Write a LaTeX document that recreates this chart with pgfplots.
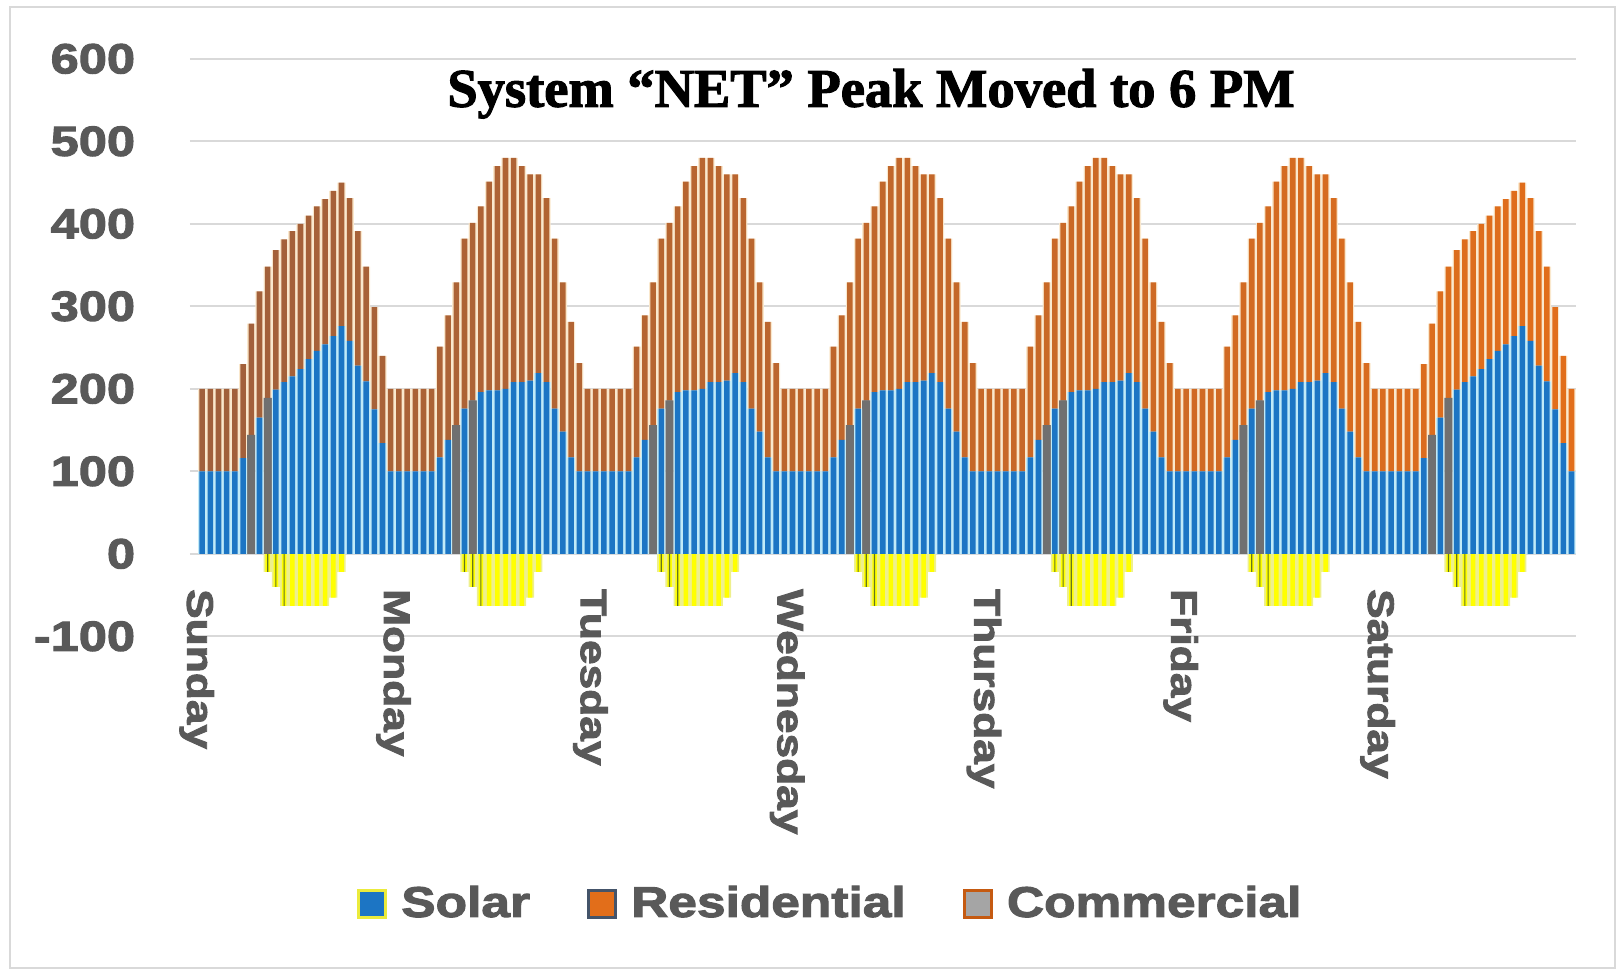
\documentclass[border=0pt]{standalone}
\usepackage{fontspec}
\usepackage{pgfplots}
\usepackage{pgfplotstable}
\pgfplotsset{compat=1.18}
\setmainfont{Liberation Sans}
\newfontfamily\heavy{Liberation Sans}[FakeStretch=1.2, FakeBold=2.5]
\newfontfamily\titlefont{Liberation Serif}[FakeBold=2]

\definecolor{combl}{RGB}{28,117,196}
\definecolor{gapcyan}{RGB}{192,234,248}
\definecolor{resor}{RGB}{226,110,26}
\definecolor{resbr}{RGB}{160,96,60}
\definecolor{gapcream}{RGB}{250,232,205}
\definecolor{midgray}{RGB}{112,112,112}
\definecolor{solary}{RGB}{255,255,0}
\definecolor{solarpale}{RGB}{238,240,140}
\definecolor{solarline}{RGB}{100,118,30}
\definecolor{gridgray}{RGB}{217,217,217}
\definecolor{labgray}{RGB}{89,89,89}
\definecolor{legyel}{RGB}{235,235,60}
\definecolor{legslate}{RGB}{68,84,106}
\definecolor{leggray}{RGB}{165,165,165}
\definecolor{legor}{RGB}{197,90,17}

% hourly load for one day (MW); gray marks the hours drawn in gray
\pgfplotstableread{
h blue gray res solar line
0  100 0   100 0   0
1  100 0   100 0   0
2  100 0   100 0   0
3  100 0   100 0   0
4  100 0   100 0   0
5  116 0   114 0   0
6  0   144 135 0   0
7  165 0   153 0   0
8  0   189 159 -22 -22
9  199 0   169 -40 -40
10 208 0   173 -63 -63
11 215 0   176 -63 0
12 224 0   176 -63 0
13 236 0   174 -63 0
14 246 0   175 -63 0
15 254 0   176 -63 0
16 264 0   176 -53 0
17 276 0   174 -22 0
18 258 0   173 0   0
19 228 0   163 0   0
20 209 0   139 0   0
21 175 0   124 0   0
22 134 0   106 0   0
23 100 0   100 0   0
}\weekend

\pgfplotstableread{
h blue gray res solar line
0  100 0   100 0   0
1  100 0   100 0   0
2  100 0   100 0   0
3  100 0   100 0   0
4  100 0   100 0   0
5  117 0   134 0   0
6  138 0   151 0   0
7  0   156 173 0   0
8  176 0   206 -22 -22
9  0   186 215 -40 -40
10 196 0   225 -63 -63
11 198 0   253 -63 0
12 198 0   272 -63 0
13 200 0   280 -63 0
14 208 0   272 -63 0
15 208 0   262 -63 0
16 210 0   250 -53 0
17 219 0   241 -22 0
18 208 0   223 0   0
19 176 0   206 0   0
20 148 0   181 0   0
21 117 0   164 0   0
22 100 0   131 0   0
23 100 0   100 0   0
}\weekday

% Sunday .. Saturday
\pgfplotstablevertcat{\week}{\weekend}
\pgfplotstablevertcat{\week}{\weekday}
\pgfplotstablevertcat{\week}{\weekday}
\pgfplotstablevertcat{\week}{\weekday}
\pgfplotstablevertcat{\week}{\weekday}
\pgfplotstablevertcat{\week}{\weekday}
\pgfplotstablevertcat{\week}{\weekend}

\pgfplotsset{
  chartbox/.style={
    scale only axis, width=13.858cm, height=5.775cm,
    at={(1.898cm,3.367cm)}, anchor=south west,
    xmin=-1.5, xmax=167.5, ymin=-100, ymax=600,
  },
}

\begin{document}
\begin{tikzpicture}
\path[use as bounding box] (0,0) rectangle (16.23,9.73);
\draw[gridgray, line width=0.02cm] (0.10,9.66) rectangle (16.15,0.05);

% grid, labels, solar and legend
\begin{axis}[chartbox, clip=false,
  ybar,
  axis line style={draw=none}, major tick length=0pt,
  xtick=\empty,
  ytick={-100,0,100,200,300,400,500,600},
  yticklabels={-100,0,100,200,300,400,500,600},
  yticklabel style={font=\heavy\bfseries\fontsize{12}{14}\selectfont, text=labgray, anchor=east, inner sep=0pt, xshift=-0.54cm},
  ymajorgrids, grid style={gridgray, line width=0.02cm},
  title={System “NET” Peak Moved to 6 PM},
  title style={at={(0.4916,0.903)}, anchor=center, font=\titlefont\bfseries\fontsize{15.5}{18}\selectfont},
  legend image code/.code={\draw[#1, line width=0.9pt] (0cm,-0.135cm) rectangle (0.27cm,0.135cm);},
  legend style={at={(0.4640,-0.4636)}, anchor=center, draw=none, fill=none,
    font=\heavy\bfseries\fontsize{12.2}{15}\selectfont, text=labgray,
    /tikz/every odd column/.append style={column sep=0.07cm},
    /tikz/every even column/.append style={column sep=0.5cm}},
  legend columns=3,
]
\addplot[forget plot, fill=solarpale, draw=none, bar width=1, bar shift=0pt] table[x expr=\coordindex, y=solar] {\week};
\addplot[forget plot, fill=solary, draw=none, bar width=0.55, bar shift=0pt] table[x expr=\coordindex, y=solar] {\week};
\addplot[forget plot, fill=solarline, draw=none, bar width=0.14, bar shift=0pt] table[x expr=\coordindex, y=line] {\week};

\foreach \d [count=\k from 0] in {Sunday,Monday,Tuesday,Wednesday,Thursday,Friday,Saturday} {
  \edef\temp{\noexpand\node[rotate=-90, anchor=west, inner sep=0pt, text=labgray,
    font=\noexpand\heavy\noexpand\bfseries\noexpand\fontsize{10.5}{13}\noexpand\selectfont]
    at (axis cs:\the\numexpr24*\k\relax-0.65,-42) {\d};}
  \temp
}

\addlegendimage{fill=combl, draw=legyel}
\addlegendentry{Solar}
\addlegendimage{fill=resor, draw=legslate}
\addlegendentry{Residential}
\addlegendimage{fill=leggray, draw=legor}
\addlegendentry{Commercial}
\end{axis}

% light strips between the bars
\begin{axis}[chartbox, hide axis, ybar stacked, bar width=1]
\addplot[fill=gapcyan, draw=none] table[x expr=\coordindex, y=blue] {\week};
\addplot[fill=midgray, draw=none] table[x expr=\coordindex, y=gray] {\week};
\addplot[fill=gapcream, draw=none] table[x expr=\coordindex, y=res] {\week};
\end{axis}

% hourly bars
\begin{axis}[chartbox, hide axis, ybar stacked, bar width=0.68]
\addplot[fill=combl, draw=none] table[x expr=\coordindex, y=blue] {\week};
\addplot[fill=midgray, draw=none] table[x expr=\coordindex, y=gray] {\week};
\addplot[draw=none, left color=resbr, right color=resor] table[x expr=\coordindex, y=res] {\week};
\end{axis}
\end{tikzpicture}
\end{document}
